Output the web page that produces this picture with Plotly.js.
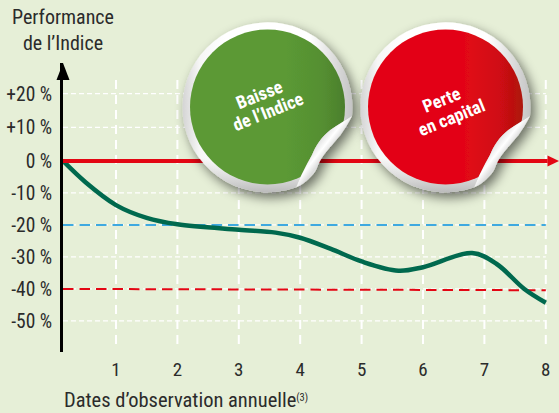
<!DOCTYPE html>
<html>
<head>
<meta charset="utf-8">
<script src="https://cdn.plot.ly/plotly-3.0.1.min.js"></script>
<style>html,body{margin:0;padding:0;background:#e6efd7;overflow:hidden}</style>
</head>
<body>
<div id="chart" style="width:559px;height:413px"></div>
<script>
const curveX = [0.137,0.50,1.00,1.50,2.00,3.00,3.60,4.00,4.50,5.00,5.60,6.00,6.80,7.20,7.65,8.00];
const curveY = [0,-6.6,-13.8,-17.8,-19.8,-21.5,-22.4,-24.0,-27.5,-31.4,-34.3,-33.2,-28.8,-32.2,-40.0,-44.3];
const xTicks = [1,2,3,4,5,6,7,8];
const yTicks = [21,10.5,0,-10,-20,-30,-40,-50];
const yTickLabels = ['+20 %','+10 %','0 %','-10 %','-20 %','-30 %','-40 %','-50 %'];
const blueLevel = -20;
const redLevel = -40;
const yTitle = 'Performance<br>de l’Indice';
const xTitle = 'Dates d’observation annuelle<span style="font-size:15px"><sup>(3)</sup></span>';
const stickerGreen = ['Baisse','de l’Indice'];
const stickerRed = ['Perte','en capital'];

const FONT = '"Liberation Sans Narrow","Roboto Condensed","Liberation Sans",sans-serif';
const xMin = 0.137, xMax = 8.215, yMin = -59.7, yMax = 30.6;
const plotW = 496, plotH = 289, plotL = 63, plotT = 63;

function sticker(base, mid, dark) {
  const body = 'M84.5 8 A85 85 0 1 0 28.8 79.3 C33 68 40 55 44.5 47 C48 38 54 29 62.8 22 C70 17 78 12 84.5 8 Z';
  const curl = 'M84.5 8 C78 12 70 17 62.8 22 C54 29 48 38 44.5 47 C40 55 33 68 28.8 79.3 C34 77 38 74 41 71 C45 67 47 65 49 61 C51 56 53 51 57 46 C61 41 68 33 73 27 C77 21 81 15 84.5 8 Z';
  const svg = `<svg xmlns="http://www.w3.org/2000/svg" width="240" height="240" viewBox="-120 -120 240 240">
<defs>
<linearGradient id="r" x1="0" x2="1" y1="0" y2="0"><stop offset="0" stop-color="#d4d4d4"/><stop offset=".1" stop-color="#f6f6f6"/><stop offset=".25" stop-color="#fff"/><stop offset=".75" stop-color="#fff"/><stop offset="1" stop-color="#c4c4c4"/></linearGradient>
<linearGradient id="b" x1="0" x2="0" y1="0" y2="1"><stop offset=".8" stop-color="#888" stop-opacity="0"/><stop offset="1" stop-color="#777" stop-opacity=".5"/></linearGradient>
<linearGradient id="c" gradientUnits="userSpaceOnUse" x1="44" y1="38" x2="62" y2="52"><stop offset="0" stop-color="#d8d8d8"/><stop offset=".45" stop-color="#ffffff"/><stop offset=".75" stop-color="#dcdcdc"/><stop offset="1" stop-color="#f4f4f4"/></linearGradient>
<linearGradient id="f" x1="0" x2="1" y1="0" y2="0"><stop offset="0" stop-color="${base}"/><stop offset=".62" stop-color="${base}"/><stop offset=".85" stop-color="${mid}"/><stop offset="1" stop-color="${dark}"/></linearGradient>
<clipPath id="k"><path d="${body}"/></clipPath>
<filter id="s" x="-30%" y="-30%" width="170%" height="170%"><feGaussianBlur in="SourceAlpha" stdDeviation="6"/><feOffset dx="4" dy="5"/><feComponentTransfer><feFuncA type="linear" slope=".55"/></feComponentTransfer><feMerge><feMergeNode/><feMergeNode in="SourceGraphic"/></feMerge></filter>
</defs>
<g filter="url(#s)">
<path d="${body}" fill="url(#r)"/>
<path d="${body}" fill="url(#b)"/>
<g clip-path="url(#k)"><circle cx="0" cy="-1" r="77.5" fill="url(#f)"/></g>
<path d="${curl}" fill="url(#c)"/>
</g></svg>`;
  return 'data:image/svg+xml;charset=utf-8,' + encodeURIComponent(svg);
}

function stickerImage(cx, cy, src) {
  return {
    source: src, xref: 'paper', yref: 'paper',
    x: (cx - 120 - plotL) / plotW,
    y: 1 - (cy - 120 - plotT) / plotH,
    sizex: 240 / plotW, sizey: 240 / plotH,
    xanchor: 'left', yanchor: 'top', sizing: 'stretch', layer: 'above', opacity: 1
  };
}

function pxNote(text, px, py, size, extra) {
  return Object.assign({
    text: text, xref: 'paper', yref: 'paper',
    x: (px - plotL) / plotW, y: 1 - (py - plotT) / plotH,
    showarrow: false, align: 'center', xanchor: 'center', yanchor: 'middle',
    font: {size: size, color: '#2b2b2b', family: FONT}
  }, extra || {});
}
function stickerLine(text, px, py) {
  return pxNote(text, px, py, 18, {textangle: -22, font: {size: 18, color: '#fff', family: FONT, weight: 700}});
}

const gridH = yTicks.map(v => ({
  type: 'line', layer: 'below', xref: 'x', yref: 'y',
  x0: xMin, x1: 8, y0: v, y1: v,
  line: {color: '#ffffff', width: 1.2, dash: '5px,3px'}
}));
const gridV = xTicks.map(v => ({
  type: 'line', layer: 'below', xref: 'x', yref: 'y',
  x0: v, x1: v, y0: 25.3, y1: -57.8,
  line: {color: '#ffffff', width: 2, dash: '9px,6px'}
}));
const arrowUp = {
  type: 'path', layer: 'above', xref: 'paper', yref: 'paper',
  xsizemode: 'pixel', ysizemode: 'pixel', xanchor: 0, yanchor: 1 - 17 / plotH,
  path: 'M -6.5 0 L 6.5 0 L 0 17 Z',
  fillcolor: '#000', line: {width: 0}
};
const arrowRight = {
  type: 'path', layer: 'above', xref: 'paper', yref: 'y',
  xsizemode: 'pixel', ysizemode: 'pixel', xanchor: 1, yanchor: 0,
  path: 'M -11.5 -5.5 L -11.5 5.5 L 0 0 Z',
  fillcolor: '#e30613', line: {width: 0}
};

const traces = [
  {x: [xMin, 8], y: [blueLevel, blueLevel], mode: 'lines', line: {color: '#3fa9e0', width: 2, dash: '10.5px,6px'}, hoverinfo: 'skip'},
  {x: [xMin, 8], y: [redLevel, redLevel - 0.4], mode: 'lines', line: {color: '#e30613', width: 2, dash: '10.5px,6px'}, hoverinfo: 'skip'},
  {x: curveX, y: curveY, mode: 'lines', line: {color: '#00694e', width: 4.5, shape: 'spline', smoothing: 1}, hoverinfo: 'skip'},
  {x: [xMin - 0.03, 8.03], y: [0, 0], mode: 'lines', line: {color: '#e30613', width: 4}, cliponaxis: false, hoverinfo: 'skip'}
];

const layout = {
  width: 559, height: 413,
  margin: {l: plotL, r: 0, t: plotT, b: 61, pad: 0},
  paper_bgcolor: '#e6efd7', plot_bgcolor: '#e6efd7',
  showlegend: false,
  font: {family: FONT, color: '#2b2b2b'},
  xaxis: {
    range: [xMin, xMax], showgrid: false, zeroline: false, showline: false,
    tickmode: 'array', tickvals: xTicks, ticktext: xTicks.map(String),
    ticks: '', tickfont: {size: 19, color: '#2b2b2b', family: FONT}, ticklabelstandoff: 4
  },
  yaxis: {
    range: [yMin, yMax], showgrid: false, zeroline: false,
    showline: true, linecolor: '#000', linewidth: 3,
    tickmode: 'array', tickvals: yTicks, ticktext: yTickLabels,
    ticks: '', tickfont: {size: 19.5, color: '#2b2b2b', family: FONT}, ticklabelstandoff: 4
  },
  shapes: [...gridH, ...gridV, arrowUp, arrowRight],
  images: [
    stickerImage(267.5, 108, sticker('#5b9935', '#558f31', '#4b7f2c')),
    stickerImage(445.5, 108, sticker('#e30613', '#cf0d12', '#ad1410'))
  ],
  annotations: [
    pxNote(yTitle, 62.5, 30, 20),
    pxNote(xTitle, 62, 400, 20.5, {xanchor: 'left', align: 'left'}),
    stickerLine(stickerGreen[0], 259, 94),
    stickerLine(stickerGreen[1], 268, 112),
    stickerLine(stickerRed[0], 442, 100),
    stickerLine(stickerRed[1], 451, 117)
  ]
};

Plotly.newPlot('chart', traces, layout, {displayModeBar: false, staticPlot: true});
</script>
</body>
</html>
